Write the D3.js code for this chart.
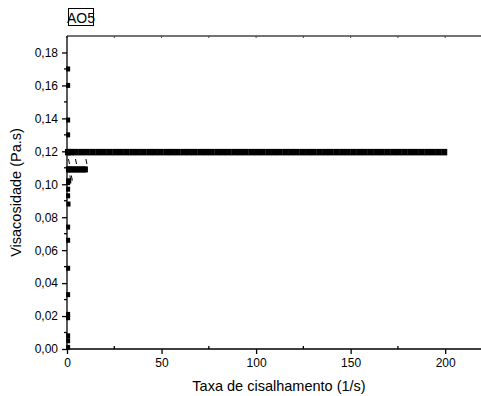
<!DOCTYPE html>
<html>
<head>
<meta charset="utf-8">
<script src="https://cdn.jsdelivr.net/npm/d3@7"></script>
<style>
  body { margin: 0; background: #fff; }
  svg text { font-family: Arial, "Liberation Sans", sans-serif; fill: #000; }
</style>
</head>
<body>
<div id="chart"></div>
<script>
// low shear-rate region: scattered readings near the origin
const lowRate = [0.6, 0.6, 0.6, 0.6, 0.6, 0.6, 1.2, 0.6, 0.8, 0.6, 0.6, 0.6, 0.6, 0.6, 0.6, 0.6, 0.6, 0.6, 0.6];
const lowVisc = [0.170, 0.160, 0.139, 0.130, 0.102, 0.101, 0.102, 0.093, 0.088, 0.074, 0.066, 0.049, 0.033, 0.021, 0.019, 0.008, 0.005, 0.001, 0.097];

// plateau at ~0.11 (first steps of the ramp)
const midRate = [0.5, 1, 2, 3, 4, 5, 6, 7, 8, 9, 10];
const midVisc = [0.109, 0.109, 0.109, 0.109, 0.109, 0.109, 0.109, 0.109, 0.109, 0.109, 0.109];

// stray readings just above the 0.11 plateau
const strayRate = [0.8, 4.5, 10, 1.5, 2.3];
const strayVisc = [0.1135, 0.1135, 0.1135, 0.1035, 0.1035];

// main ramp up to 200 1/s, viscosity steady at 0.12
const highRate = [0.5, 2, 4.5, 7.5, 10.5, 13.5, 16.5, 19.5, 22.5, 25.5, 28.5, 31.5, 34.5, 37.5, 40.5, 43.5,
  46.5, 49.5, 52.5, 55.5, 58.5, 61.5, 64.5, 67.5, 70.5, 73.5, 76.5, 79.5, 82.5, 85.5, 88.5, 91.5,
  94.5, 97.5, 100.5, 103.5, 106.5, 109.5, 112.5, 115.5, 118.5, 121.5, 124.5, 127.5, 130.5, 133.5,
  136.5, 139.5, 142.5, 145.5, 148.5, 151.5, 154.5, 157.5, 160.5, 163.5, 166.5, 169.5, 172.5, 175.5,
  178.5, 181.5, 184.5, 187.5, 190.5, 193.5, 196.5, 199.5];
const highVisc = highRate.map(() => 0.1195);

const xTicks = [0, 50, 100, 150, 200];
const xMinor = [25, 75, 125, 175];
const yTicks = [0, 0.02, 0.04, 0.06, 0.08, 0.10, 0.12, 0.14, 0.16, 0.18];
const yMinor = [0.01, 0.03, 0.05, 0.07, 0.09, 0.11, 0.13, 0.15, 0.17];
const title = "AO5";

const width = 481, height = 396;
const margin = {top: 36, right: -2, bottom: 47, left: 67};

const svg = d3.select("#chart").append("svg")
  .attr("width", width).attr("height", height);

const x = d3.scaleLinear().domain([0, 220]).range([margin.left, width - margin.right]);
const y = d3.scaleLinear().domain([0, 0.19]).range([height - margin.bottom, margin.top]);

const fmt = d => d3.format(".2f")(d).replace(".", ",");

// bottom axis
const bottom = svg.append("g").attr("transform", `translate(0,${y(0)})`);
bottom.call(d3.axisBottom(x).tickValues(xTicks).tickSize(5).tickPadding(4).tickFormat(d3.format("d")));
bottom.attr("font-family", null).attr("font-size", null);
bottom.selectAll(".tick text").attr("font-size", 12);
bottom.selectAll("line, path").attr("stroke", "#000").attr("stroke-width", 1.3);
bottom.select(".domain").attr("d", `M${x(0)},0H${width}`);
bottom.selectAll(".minor").data(xMinor).join("line")
  .attr("x1", d => x(d)).attr("x2", d => x(d)).attr("y1", 0).attr("y2", -3)
  .attr("stroke", "#000").attr("stroke-width", 1.3);

// top border with small ticks
svg.append("line").attr("x1", x(0)).attr("x2", width).attr("y1", y(0.19)).attr("y2", y(0.19))
  .attr("stroke", "#444").attr("stroke-width", 1.5);
svg.append("g").selectAll("line").data(xTicks.concat(xMinor)).join("line")
  .attr("x1", d => x(d)).attr("x2", d => x(d)).attr("y1", y(0.19)).attr("y2", y(0.19) + 2)
  .attr("stroke", "#444").attr("stroke-width", 1);

// left axis
const left = svg.append("g").attr("transform", `translate(${x(0)},0)`);
left.call(d3.axisLeft(y).tickValues(yTicks).tickSize(5).tickPadding(4).tickFormat(fmt));
left.attr("font-family", null).attr("font-size", null);
left.selectAll(".tick text").attr("font-size", 12);
left.selectAll("line, path").attr("stroke", "#000").attr("stroke-width", 1.3);
left.select(".domain").attr("d", `M0,${y(0)}V${y(0.19)}`);
left.selectAll(".minor").data(yMinor).join("line")
  .attr("x1", 0).attr("x2", -3).attr("y1", d => y(d)).attr("y2", d => y(d))
  .attr("stroke", "#000").attr("stroke-width", 1.3);

// markers
const drawPoints = (rates, visc, w, h) => {
  svg.append("g").selectAll("rect").data(rates.map((r, i) => [r, visc[i]])).join("rect")
    .attr("x", d => x(d[0]) - w / 2).attr("y", d => y(d[1]) - h / 2)
    .attr("width", w).attr("height", h).attr("fill", "#000");
};
drawPoints(lowRate, lowVisc, 4, 5);
drawPoints(midRate, midVisc, 4, 6);
drawPoints(highRate, highVisc, 6, 6.5);
svg.append("g").selectAll("line").data(strayRate.map((r, i) => [r, strayVisc[i]])).join("line")
  .attr("x1", d => x(d[0])).attr("x2", d => x(d[0]) + 1)
  .attr("y1", d => y(d[1]) - 3).attr("y2", d => y(d[1]) + 2)
  .attr("stroke", "#000").attr("stroke-width", 1);

// title box
const tg = svg.append("g");
tg.append("rect").attr("x", 68.5).attr("y", 8.5).attr("width", 25).attr("height", 17)
  .attr("fill", "none").attr("stroke", "#000").attr("stroke-width", 1);
tg.append("text").attr("x", 81).attr("y", 22.5).attr("text-anchor", "middle")
  .attr("font-size", 14).text(title);

// axis labels
svg.append("text").attr("x", 279).attr("y", 391).attr("text-anchor", "middle")
  .attr("font-size", 14.5).text("Taxa de cisalhamento (1/s)");
svg.append("text").attr("transform", `translate(21,${(y(0) + y(0.19)) / 2}) rotate(-90)`)
  .attr("text-anchor", "middle").attr("font-size", 14.5).text("Visacosidade (Pa.s)");
</script>
</body>
</html>
